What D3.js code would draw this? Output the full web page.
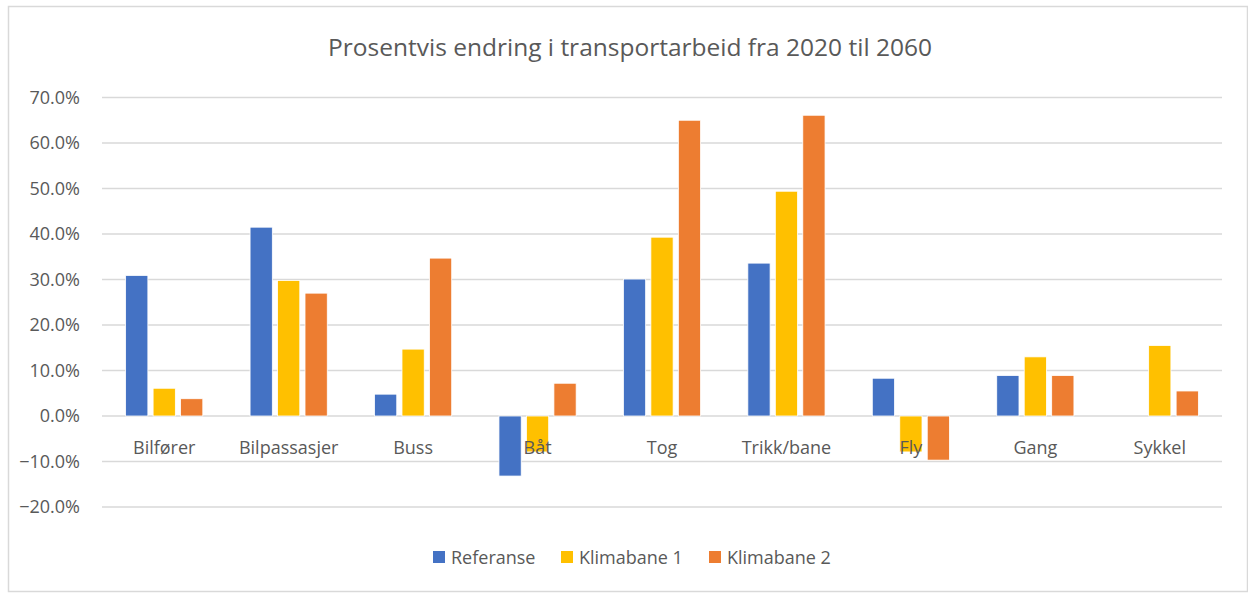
<!DOCTYPE html>
<html>
<head>
<meta charset="utf-8">
<script src="https://cdn.jsdelivr.net/npm/d3@7"></script>
<style>
  body { margin: 0; background: #fff; }
  text { font-family: "Open Sans", "Liberation Sans", sans-serif; fill: #595959; }
</style>
</head>
<body>
<div id="chart"></div>
<script>
var categories = ["Bilfører", "Bilpassasjer", "Buss", "Båt", "Tog", "Trikk/bane", "Fly", "Gang", "Sykkel"];
var seriesNames = ["Referanse", "Klimabane 1", "Klimabane 2"];
var referanse  = [0.309, 0.415, 0.048, -0.132, 0.301, 0.336, 0.083, 0.089, 0.0];
var klimabane1 = [0.061, 0.298, 0.147, -0.079, 0.393, 0.494, -0.079, 0.130, 0.155];
var klimabane2 = [0.038, 0.270, 0.347, 0.072, 0.650, 0.661, -0.097, 0.089, 0.055];
var yTicks = [-0.2, -0.1, 0, 0.1, 0.2, 0.3, 0.4, 0.5, 0.6, 0.7];
var colors = ["#4472c4", "#ffc000", "#ed7d31"];

var width = 1248, height = 594;
var margin = {left: 102, right: 26, top: 97.5, bottom: 87};

var svg = d3.select("#chart").append("svg")
	.attr("width", width)
	.attr("height", height);

// chart frame
svg.append("rect")
	.attr("x", 8.5).attr("y", 6.5)
	.attr("width", width - 9).attr("height", height - 9)
	.style("fill", "none").style("stroke", "#d9d9d9").style("stroke-width", 1.5);

svg.append("text")
	.attr("x", 630).attr("y", 56)
	.attr("text-anchor", "middle")
	.style("font-size", "24.5px")
	.text("Prosentvis endring i transportarbeid fra 2020 til 2060");

var y = d3.scaleLinear()
	.domain([-0.2, 0.7])
	.range([height - margin.bottom, margin.top]);

var x0 = d3.scaleBand()
	.domain(categories)
	.range([margin.left, width - margin.right]);

var x1 = d3.scaleBand()
	.domain(seriesNames)
	.range([x0.bandwidth() / 2 - 38.6, x0.bandwidth() / 2 + 38.6])
	.paddingInner(0.19);

// gridlines
svg.append("g")
	.selectAll("line")
	.data(yTicks)
	.enter().append("line")
	.attr("x1", margin.left).attr("x2", width - margin.right)
	.attr("y1", function(d) { return y(d); })
	.attr("y2", function(d) { return y(d); })
	.style("stroke", "#d9d9d9").style("stroke-width", 1.5);

var yAxis = svg.append("g")
	.attr("transform", "translate(" + (margin.left - 19) + ",0)")
	.call(d3.axisLeft(y).tickValues(yTicks).tickSize(0).tickFormat(d3.format(".1%")));
yAxis.select(".domain").remove();
yAxis.selectAll("text")
	.style("font-size", "18px")
	.style("fill", "#595959")
	.style("font-family", "\"Open Sans\", sans-serif");

var rows = categories.map(function(c, i) {
	return [referanse[i], klimabane1[i], klimabane2[i]];
});

var groups = svg.selectAll(".group")
	.data(rows)
	.enter().append("g")
	.attr("class", "group")
	.attr("transform", function(d, i) { return "translate(" + x0(categories[i]) + ",0)"; });

groups.selectAll("rect")
	.data(function(d) { return d.map(function(v, j) { return {name: seriesNames[j], value: v, j: j}; }); })
	.enter().append("rect")
	.attr("x", function(d) { return x1(d.name); })
	.attr("width", x1.bandwidth())
	.attr("y", function(d) { return y(Math.max(0, d.value)); })
	.attr("height", function(d) { return Math.abs(y(d.value) - y(0)); })
	.style("fill", function(d) { return colors[d.j]; })
	.style("stroke", "#fff").style("stroke-width", 0.8);

// category labels
svg.append("g")
	.selectAll("text")
	.data(categories)
	.enter().append("text")
	.attr("x", function(d) { return x0(d) + x0.bandwidth() / 2; })
	.attr("y", y(0) + 38)
	.attr("text-anchor", "middle")
	.style("font-size", "18px")
	.text(function(d) { return d; });

// legend
var legendX = [433, 561, 709];
var legend = svg.append("g")
	.selectAll("g")
	.data(seriesNames)
	.enter().append("g")
	.attr("transform", function(d, i) { return "translate(" + legendX[i] + ",551)"; });
legend.append("rect")
	.attr("width", 12).attr("height", 12)
	.style("fill", function(d, i) { return colors[i]; });
legend.append("text")
	.attr("x", 18).attr("y", 13)
	.style("font-size", "18px")
	.text(function(d) { return d; });
</script>
</body>
</html>
